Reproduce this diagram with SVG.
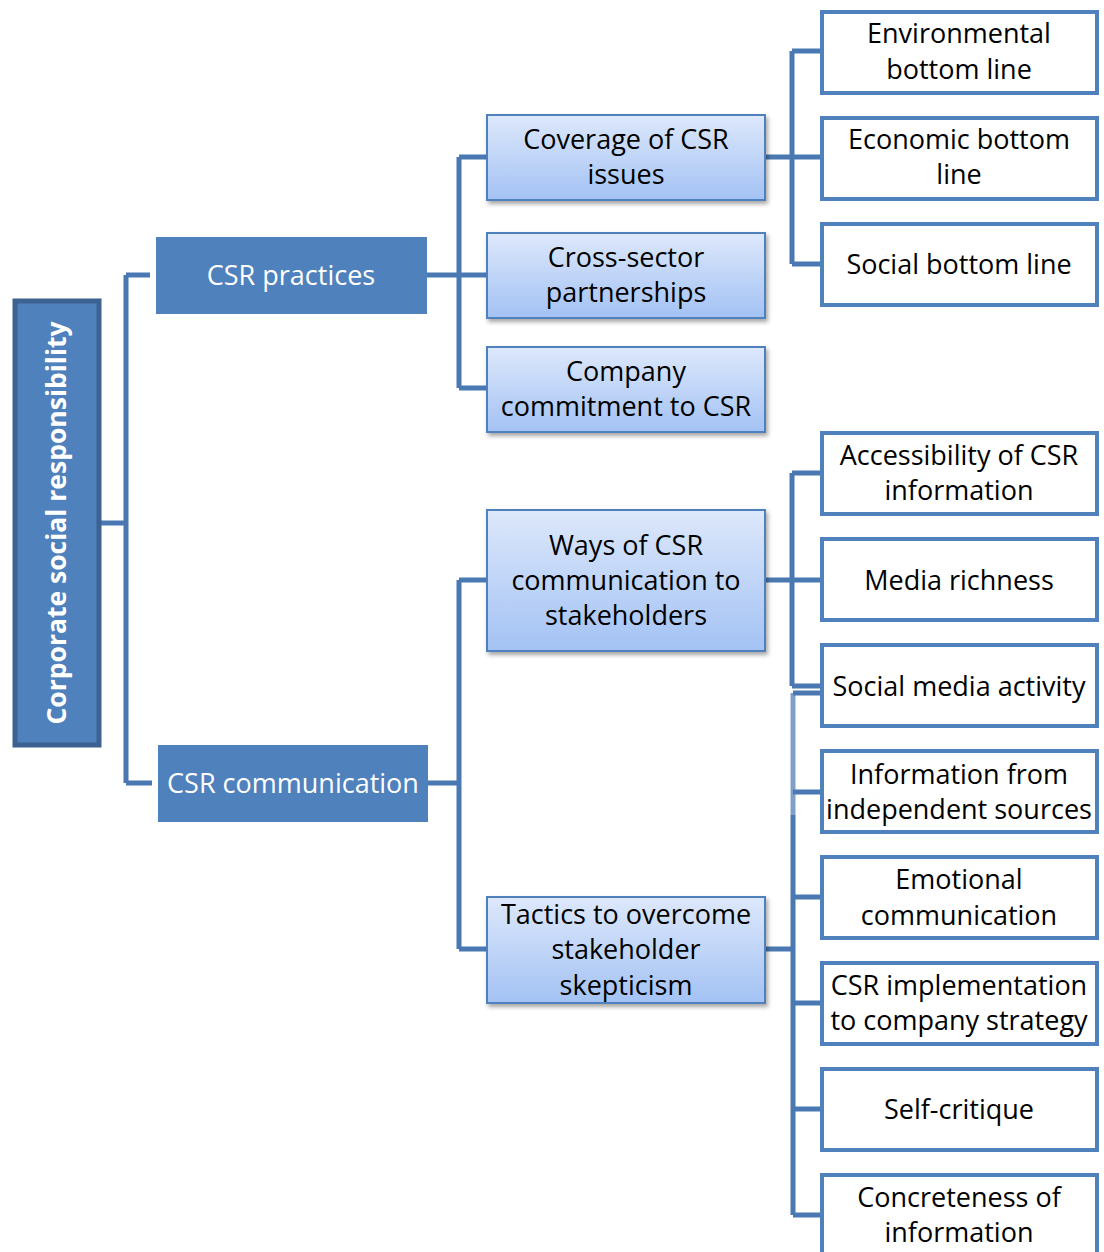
<svg xmlns="http://www.w3.org/2000/svg" width="1104" height="1252" viewBox="0 0 1104 1252">
<defs>
<linearGradient id="g2" x1="0" y1="0" x2="0" y2="1">
<stop offset="0" stop-color="#DDE8FB"/>
<stop offset="1" stop-color="#A3C2F4"/>
</linearGradient>
<filter id="sh" x="-10%" y="-10%" width="120%" height="130%">
<feDropShadow dx="2" dy="3" stdDeviation="2" flood-color="#000" flood-opacity="0.35"/>
</filter>
</defs>
<style>
.t{font-family:"Open Sans","Noto Sans","Liberation Sans",sans-serif;font-size:27px;text-anchor:middle;fill:#000}
.w{fill:#fff}
.b{font-weight:bold;font-size:26.5px}
.l1{fill:#4F81BD}
.l2{fill:url(#g2);stroke:#4F81BD;stroke-width:2;filter:url(#sh)}
.l3{fill:#fff;stroke:#4F81BD;stroke-width:4}
.c{fill:none;stroke:#4A78B2;stroke-width:5}
</style>
<rect width="1104" height="1252" fill="#fff"/>
<g id="connectors">
<path class="c" d="M100 523H126M126 275V783M126 275H150M126 783H152"/>
<path class="c" d="M427 275H487M459 157V388M459 157H487M459 388H487"/>
<path class="c" d="M428 783H459M459 580V949M459 580H487M459 949H487"/>
<path class="c" d="M765 157H820M792 51V264M792 51H820M792 264H820"/>
<path class="c" d="M765 580H820M792 473V686M792 473H820M792 686H820"/>
<path class="c" d="M765 949H793M793 693H820M793 792H820M793 897H820M793 1003H820M793 1109H820M793 1215H820"/>
<path class="c" d="M793 815V1215"/>
<path class="c" d="M793 693V815" stroke-opacity="0.7"/>
</g>
<g id="root">
<rect x="15" y="301" width="84" height="444" fill="#4F81BD" stroke="#3B6291" stroke-width="5"/>
<text class="t w b" transform="translate(66 523) rotate(-90)" x="0" y="0">Corporate social responsibility</text>
</g>
<g id="csr-practices">
<rect class="l1" x="156" y="237" width="271" height="77"/>
<text class="t w" x="291" y="285">CSR practices</text>
</g>
<g id="csr-communication">
<rect class="l1" x="158" y="745" width="270" height="77"/>
<text class="t w" x="293" y="793">CSR communication</text>
</g>
<g id="coverage">
<rect class="l2" x="487" y="115" width="278" height="85"/>
<text class="t" x="626" y="149">Coverage of CSR</text>
<text class="t" x="626" y="184">issues</text>
</g>
<g id="cross-sector">
<rect class="l2" x="487" y="233" width="278" height="85"/>
<text class="t" x="626" y="267">Cross-sector</text>
<text class="t" x="626" y="302">partnerships</text>
</g>
<g id="commitment">
<rect class="l2" x="487" y="347" width="278" height="85"/>
<text class="t" x="626" y="381">Company</text>
<text class="t" x="626" y="416">commitment to CSR</text>
</g>
<g id="ways">
<rect class="l2" x="487" y="510" width="278" height="141"/>
<text class="t" x="626" y="555">Ways of CSR</text>
<text class="t" x="626" y="590">communication to</text>
<text class="t" x="626" y="625">stakeholders</text>
</g>
<g id="tactics">
<rect class="l2" x="487" y="897" width="278" height="106"/>
<text class="t" x="626" y="924">Tactics to overcome</text>
<text class="t" x="626" y="959">stakeholder</text>
<text class="t" x="626" y="995">skepticism</text>
</g>
<g id="environmental">
<rect class="l3" x="822" y="12" width="275" height="81"/>
<text class="t" x="959" y="43">Environmental</text>
<text class="t" x="959" y="79">bottom line</text>
</g>
<g id="economic">
<rect class="l3" x="822" y="118" width="275" height="81"/>
<text class="t" x="959" y="149">Economic bottom</text>
<text class="t" x="959" y="184">line</text>
</g>
<g id="social-bl">
<rect class="l3" x="822" y="224" width="275" height="81"/>
<text class="t" x="959" y="274">Social bottom line</text>
</g>
<g id="accessibility">
<rect class="l3" x="822" y="433" width="275" height="81"/>
<text class="t" x="959" y="465">Accessibility of CSR</text>
<text class="t" x="959" y="500">information</text>
</g>
<g id="media-richness">
<rect class="l3" x="822" y="539" width="275" height="81"/>
<text class="t" x="959" y="590">Media richness</text>
</g>
<g id="social-media">
<rect class="l3" x="822" y="645" width="275" height="81"/>
<text class="t" x="959" y="696">Social media activity</text>
</g>
<g id="independent">
<rect class="l3" x="822" y="751" width="275" height="81"/>
<text class="t" x="959" y="784">Information from</text>
<text class="t" x="959" y="819">independent sources</text>
</g>
<g id="emotional">
<rect class="l3" x="822" y="857" width="275" height="81"/>
<text class="t" x="959" y="889">Emotional</text>
<text class="t" x="959" y="925">communication</text>
</g>
<g id="implementation">
<rect class="l3" x="822" y="963" width="275" height="81"/>
<text class="t" x="959" y="995">CSR implementation</text>
<text class="t" x="959" y="1030">to company strategy</text>
</g>
<g id="self-critique">
<rect class="l3" x="822" y="1069" width="275" height="81"/>
<text class="t" x="959" y="1119">Self-critique</text>
</g>
<g id="concreteness">
<rect class="l3" x="822" y="1175" width="275" height="81"/>
<text class="t" x="959" y="1207">Concreteness of</text>
<text class="t" x="959" y="1242">information</text>
</g>
</svg>
